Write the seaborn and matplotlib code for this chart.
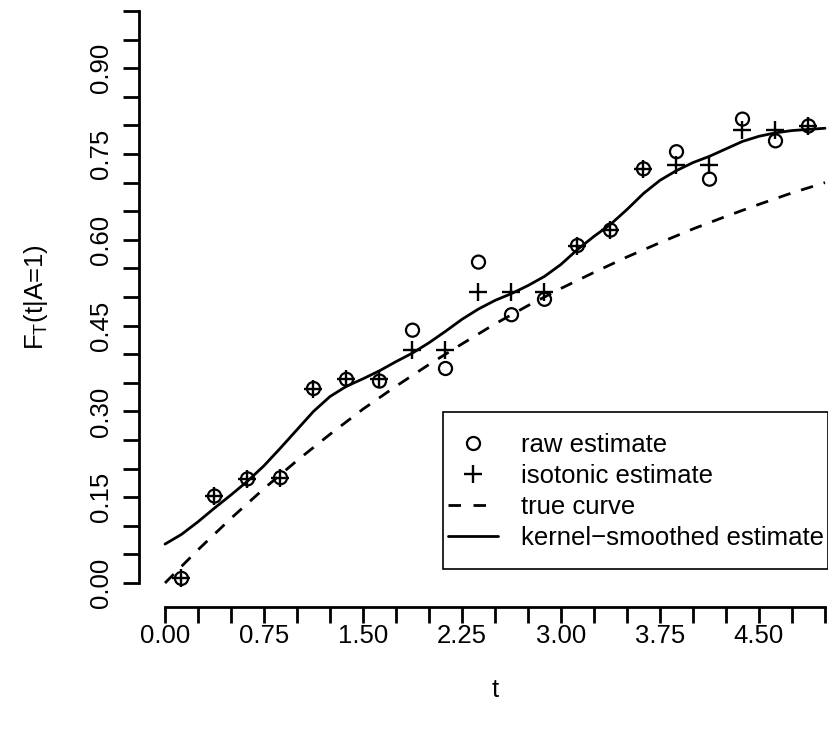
import numpy as np
import pandas as pd
import matplotlib
matplotlib.use("Agg")
import matplotlib.pyplot as plt
from matplotlib.lines import Line2D
from matplotlib.patches import Rectangle
import seaborn as sns

# ---------------- data ----------------
t_points = [0.125, 0.375, 0.625, 0.875, 1.125, 1.375, 1.625, 1.875, 2.125, 2.375,
            2.625, 2.875, 3.125, 3.375, 3.625, 3.875, 4.125, 4.375, 4.625, 4.875]
raw_estimate = [0.008, 0.152, 0.182, 0.184, 0.340, 0.356, 0.353, 0.442, 0.375, 0.561,
                0.469, 0.496, 0.590, 0.617, 0.724, 0.754, 0.706, 0.811, 0.773, 0.799]
isotonic_estimate = [0.008, 0.152, 0.182, 0.184, 0.340, 0.356, 0.356, 0.408, 0.408, 0.508,
                     0.508, 0.508, 0.590, 0.617, 0.724, 0.730, 0.730, 0.792, 0.792, 0.799]

t_true = [0.0, 0.25, 0.5, 0.75, 1.0, 1.25, 1.5, 1.75, 2.0, 2.25, 2.5,
          2.75, 3.0, 3.25, 3.5, 3.75, 4.0, 4.25, 4.5, 4.75, 5.0]
true_curve = [0.000, 0.058, 0.113, 0.165, 0.214, 0.260, 0.304, 0.344, 0.382, 0.418, 0.453,
              0.485, 0.515, 0.543, 0.570, 0.595, 0.619, 0.641, 0.662, 0.682, 0.700]

t_kernel = [0.0, 0.125, 0.25, 0.375, 0.5, 0.625, 0.75, 0.875, 1.0, 1.125, 1.25, 1.375,
            1.5, 1.625, 1.75, 1.875, 2.0, 2.125, 2.25, 2.375, 2.5, 2.625, 2.75, 2.875,
            3.0, 3.125, 3.25, 3.375, 3.5, 3.625, 3.75, 3.875, 4.0, 4.125, 4.25, 4.375,
            4.5, 4.625, 4.75, 4.875, 5.0]
kernel_estimate = [0.068, 0.085, 0.107, 0.131, 0.154, 0.178, 0.205, 0.236, 0.268, 0.300,
                   0.326, 0.344, 0.357, 0.371, 0.387, 0.402, 0.420, 0.440, 0.461, 0.479,
                   0.494, 0.506, 0.520, 0.536, 0.557, 0.583, 0.606, 0.627, 0.653, 0.681,
                   0.704, 0.721, 0.735, 0.746, 0.759, 0.772, 0.781, 0.787, 0.791, 0.793,
                   0.795]

x_ticks = [i * 0.25 for i in range(21)]
x_tick_labels = ["0.00", "", "", "0.75", "", "", "1.50", "", "", "2.25", "", "",
                 "3.00", "", "", "3.75", "", "", "4.50", "", ""]
y_ticks = [i * 0.05 for i in range(21)]
y_tick_labels = ["0.00", "", "", "0.15", "", "", "0.30", "", "", "0.45", "", "",
                 "0.60", "", "", "0.75", "", "", "0.90", "", ""]
legend_labels = ["raw estimate", "isotonic estimate", "true curve", "kernel\u2212smoothed estimate"]

# ---------------- style ----------------
sns.set_style("ticks")
plt.rcParams["font.family"] = ["Liberation Sans", "DejaVu Sans"]
plt.rcParams["mathtext.fontset"] = "custom"
plt.rcParams["mathtext.rm"] = "Liberation Sans"
plt.rcParams["mathtext.it"] = "Liberation Sans"
plt.rcParams["text.color"] = "black"
plt.rcParams["xtick.color"] = "black"
plt.rcParams["ytick.color"] = "black"
plt.rcParams["xtick.labelcolor"] = "black"
plt.rcParams["ytick.labelcolor"] = "black"
FS = 18.5
LW = 2.0

W, H = 829, 732
fig = plt.figure(figsize=(W / 100, H / 100), dpi=100)

# pixel geometry of the axes box
ax_left_px, ax_right_px, ax_top_px, ax_bottom_px = 139, 829, 0, 607
ax = fig.add_axes([ax_left_px / W, 1 - ax_bottom_px / H,
                   (ax_right_px - ax_left_px) / W, (ax_bottom_px - ax_top_px) / H])

x0_px, px_per_x = 165.0, 132.0
y0_px, px_per_y = 583.0, 572.0
ax.set_xlim((ax_left_px - x0_px) / px_per_x, (ax_right_px - x0_px) / px_per_x)
ax.set_ylim((y0_px - ax_bottom_px) / px_per_y, (y0_px - ax_top_px) / px_per_y)

df_pts = pd.DataFrame({"t": t_points, "raw": raw_estimate, "iso": isotonic_estimate})
df_true = pd.DataFrame({"t": t_true, "F": true_curve})
df_kern = pd.DataFrame({"t": t_kernel, "F": kernel_estimate})

sns.lineplot(data=df_true, x="t", y="F", ax=ax, color="black", lw=LW,
             dashes=False, linestyle=(0, (4.5, 4.0)), sort=False, estimator=None)
sns.lineplot(data=df_kern, x="t", y="F", ax=ax, color="black", lw=LW,
             sort=False, estimator=None)
sns.scatterplot(data=df_pts, x="t", y="raw", ax=ax, marker="o", s=9.4 ** 2,
                color="black", facecolor="none", edgecolor="black", linewidth=1.6,
                zorder=3)
sns.scatterplot(data=df_pts, x="t", y="iso", ax=ax, marker="+", s=13 ** 2,
                color="black", linewidth=1.7, zorder=3)

# axes styling (R base look)
for s in ["top", "right"]:
    ax.spines[s].set_visible(False)
for s in ["left", "bottom"]:
    ax.spines[s].set_linewidth(LW)
    ax.spines[s].set_color("black")
ax.spines["bottom"].set_bounds(0, 5)
ax.spines["left"].set_bounds(0, 1)

ax.set_xticks(x_ticks)
ax.set_xticklabels(x_tick_labels)
ax.set_yticks(y_ticks)
ax.set_yticklabels(y_tick_labels, rotation=90, va="center")
ax.tick_params(axis="both", which="major", length=11.5, width=LW, color="black",
               labelsize=FS, direction="out", bottom=True, left=True,
               labelcolor="black")
ax.tick_params(axis="x", pad=0.5)
ax.tick_params(axis="y", pad=7)
ax.grid(False)

ax.set_xlabel("")
ax.set_ylabel("")
fig.text(495 / W, 1 - 690 / H, "t", ha="center", va="center", fontsize=FS)
fig.text(36 / W, 1 - 297 / H, r"F$_{\mathregular{T}}$(t|A=1)", ha="center", va="center",
         rotation=90, fontsize=FS)

# legend
handles = [
    Line2D([], [], color="black", marker="o", markerfacecolor="none", markersize=9.4,
           markeredgewidth=1.6, linestyle="none"),
    Line2D([], [], color="black", marker="+", markersize=13, markeredgewidth=1.7,
           linestyle="none"),
    Line2D([], [], color="black", lw=LW, linestyle=(0, (4.5, 4.5))),
    Line2D([], [], color="black", lw=LW),
]
leg = fig.legend(handles, legend_labels, loc="upper left",
                 bbox_to_anchor=(448 / W, 1 - 433 / H), frameon=False,
                 fontsize=FS, handlelength=1.95, handletextpad=0.9,
                 labelspacing=0.27, borderpad=0.0, borderaxespad=0.0)
for txt in leg.get_texts():
    txt.set_color("black")
fig.add_artist(Rectangle((443 / W, 1 - 569 / H), (828 - 443) / W, (569 - 412) / H,
                         transform=fig.transFigure, fill=False, edgecolor="black",
                         linewidth=1.2))

fig.savefig("out.png", dpi=100, facecolor="white")
